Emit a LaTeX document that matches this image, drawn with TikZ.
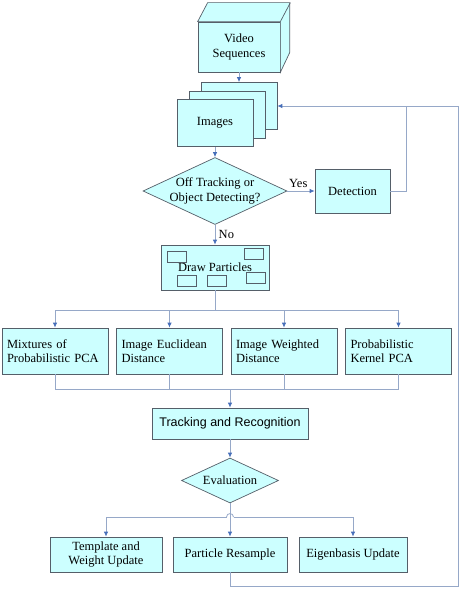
\documentclass[tikz,border=0pt]{standalone}
\usepackage{fontspec}
\setmainfont{Liberation Serif}
\newfontfamily\arialfont{Liberation Sans}
\usetikzlibrary{arrows.meta,shapes.geometric,positioning}

\definecolor{boxfill}{RGB}{204,255,255}
\definecolor{boxline}{RGB}{85,95,105}
\definecolor{flowline}{RGB}{150,168,200}
\definecolor{tipblue}{RGB}{70,110,185}

\begin{document}
\begin{tikzpicture}[x=1pt,y=-1pt,
	font=\fontsize{12.5}{14.5}\selectfont,
	box/.style={rectangle,draw=boxline,fill=boxfill,line width=0.7pt,align=center,inner sep=2pt},
	method/.style={box,align=left,text width=96pt,inner xsep=5pt,minimum height=46pt},
	decision/.style={diamond,draw=boxline,fill=boxfill,line width=0.7pt,inner sep=0pt},
	flow/.style={draw=flowline,line width=0.8pt},
	arrow/.style={flow,-{Latex[length=5pt,width=4.5pt,color=tipblue]}},
	mini/.style={draw=boxline,line width=0.5pt}]
				\useasboundingbox (0,0) rectangle (460,594);

				% Video source drawn as a cube
				\node[box,minimum width=82pt,minimum height=50pt] (video) at (239,47) {Video\\Sequences};
				\filldraw[draw=boxline,fill=boxfill,line width=0.7pt] (video.north west) -- ++(10,-19) -- ++(82,0) -- ++(0,50) -- (video.south east) -- (video.north east) -- cycle;
				\draw[boxline,line width=0.7pt] (video.north east) -- ++(10,-19);

				% Stacked image frames
				\node[box,minimum width=76pt,minimum height=47pt] (imgc) at (239,106) {};
				\node[box,minimum width=76pt,minimum height=47pt] (imgb) at (227,114.5) {};
				\node[box,minimum width=76pt,minimum height=47pt] (imga) at (215,123) {Images};

				\node[decision,minimum width=144pt,minimum height=67pt,label={[align=center]center:Off Tracking or\\Object Detecting?}] (off) at (215,191) {};
				\node[box,minimum width=75pt,minimum height=44pt] (detect) at (352.5,191) {Detection};

				% Particles with small sample windows
				\node[box,minimum width=108pt,minimum height=45pt] (drawp) at (215,267.5) {Draw Particles};
				\foreach \x/\y in {167/251,244/248,177/275,207/275,246/272}
					\draw[mini] (\x,\y) rectangle ++(19.5,11.5);

				\node[method] (mppca) at (55,351) {Mixtures of\\Probabilistic PCA};
				\node[method] (ied) at (169.5,351) {Image Euclidean\\Distance};
				\node[method] (iwd) at (284,351) {Image Weighted\\Distance};
				\node[method] (pkpca) at (398.5,351) {Probabilistic\\Kernel PCA};

				\node[box,font=\arialfont\fontsize{12.5}{14.5}\selectfont,minimum width=156pt,minimum height=31pt] (track) at (230,423.5) {Tracking and Recognition};
				\node[decision,minimum width=97pt,minimum height=45pt,label=center:Evaluation] (eval) at (230,480.5) {};

				\node[box,minimum width=112pt,minimum height=35pt] (tmpl) at (106,554.5) {Template and\\Weight Update};
				\node[box,minimum width=114pt,minimum height=35pt] (resample) at (230,554.5) {Particle Resample};
				\node[box,minimum width=108pt,minimum height=35pt] (eigen) at (353,554.5) {Eigenbasis Update};

				% Main flow
				\draw[arrow] (video.south) -- (imgc.north);
				\draw[arrow] (imga.south) -- (off.north);
				\draw[arrow] (off.east) -- node[above,pos=0.4] {Yes} (detect.west);
				\draw[arrow] (off.south) -- node[right] {No} (drawp.north);

				% Fan out to the four measures, then gather
				\coordinate (fan) at (215,310);
				\draw[flow] (drawp.south) -- (fan);
				\foreach \m in {mppca,ied,iwd,pkpca}
					\draw[arrow] (fan) -| (\m.north);
				\coordinate (gather) at (230,389);
				\foreach \m in {mppca,ied,iwd,pkpca}
					\draw[flow] (\m.south) |- (gather);
				\draw[arrow] (gather) -- (track.north);
				\draw[arrow] (track.south) -- (eval.north);

				% Updates, with a line jump at the fork
				\coordinate (fork) at (230,517);
				\draw[arrow] (eval.south) -- (resample.north);
				\draw[arrow] ([xshift=-3.5pt]fork) -| (tmpl.north);
				\draw[arrow] ([xshift=3.5pt]fork) -| (eigen.north);
				\draw[flow] ([xshift=-3.5pt]fork) .. controls +(0,-4.5) and +(0,-4.5) .. ([xshift=3.5pt]fork);

				% Feedback loop back to the frames
				\coordinate (loopb) at (458,586);
				\coordinate (loopt) at (458,106);
				\coordinate (joint) at (406,106);
				\draw[arrow] (resample.south) |- (loopb) -- (loopt) -- (imgc.east);
				\draw[flow] (detect.east) -| (joint);
			\end{tikzpicture}
\end{document}
